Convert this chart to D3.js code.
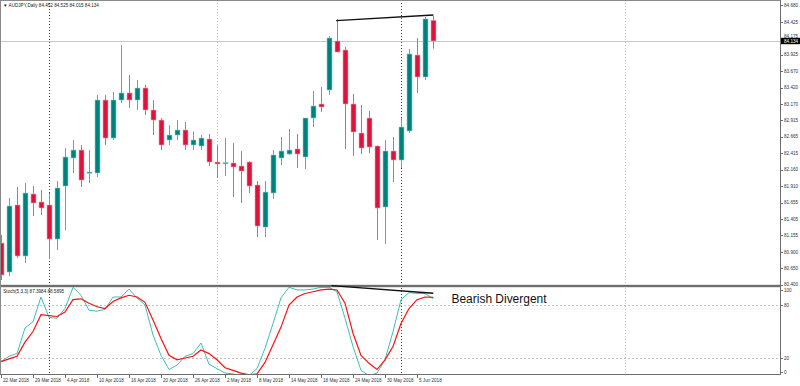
<!DOCTYPE html>
<html>
<head>
<meta charset="utf-8">
<script src="https://cdn.jsdelivr.net/npm/d3@7"></script>
<style>
  body { margin: 0; background: #fff; }
  svg { display: block; font-family: "Liberation Sans", Arial, sans-serif; }
</style>
</head>
<body>
<div id="chart"></div>
<script>
// AUDJPY daily bars, 22 Mar .. 7 Jun 2018
var opens  = [81.036,80.591,81.619,80.837,81.788,81.665,81.619,81.097,81.910,82.340,82.462,82.110,82.110,83.229,82.646,83.229,83.337,83.229,83.413,83.076,82.922,82.616,82.692,82.769,82.539,82.524,82.631,82.278,82.263,82.263,82.217,82.278,81.926,81.281,81.803,82.340,82.401,82.478,82.355,82.953,83.168,83.383,84.134,83.996,83.168,82.723,82.953,82.524,81.588,82.447,82.309,82.754,83.919,83.582,84.452];
var highs  = [81.159,81.726,81.895,81.956,81.910,81.849,81.803,81.987,82.493,82.616,82.539,82.462,83.306,83.306,83.352,84.073,83.613,83.536,83.459,83.229,82.953,82.845,82.922,82.892,82.747,82.692,82.708,82.539,82.646,82.570,82.447,82.294,81.987,81.987,82.462,82.662,82.785,82.708,82.953,83.367,83.429,84.211,84.472,84.042,83.321,83.153,83.061,82.530,82.616,82.662,82.953,84.011,84.180,84.502,84.525];
var lows   = [80.469,80.530,80.806,80.729,81.450,81.466,80.791,80.929,81.235,82.110,81.895,81.956,82.048,82.539,82.616,83.183,83.107,83.076,82.999,82.692,82.462,82.539,82.616,82.462,82.462,82.462,82.217,82.033,82.064,81.742,81.650,81.803,81.128,81.128,81.711,82.232,82.386,82.186,82.171,82.815,83.045,83.306,83.965,82.478,82.370,82.401,82.416,81.082,81.021,81.972,82.186,82.723,83.337,83.536,84.015];
var closes = [80.545,81.604,80.837,81.803,81.650,81.573,81.097,81.880,82.355,82.462,82.002,82.125,83.229,82.646,83.229,83.337,83.229,83.413,83.076,82.922,82.539,82.692,82.769,82.539,82.616,82.646,82.278,82.248,82.268,82.202,82.140,81.910,81.297,81.818,82.386,82.447,82.462,82.401,82.953,83.137,83.122,84.180,83.965,83.168,82.739,82.493,82.508,81.573,82.447,82.309,82.815,83.935,83.582,84.472,84.134];

// Stochastic(5,3,3)
var stochK = [16,22,25,54,61,89,66,65,76,100,91,74,73,75,89,89,98,88,80,46,23,7,12,22,25,37,13,8,3,2,0,0,8,31,59,88,100,97,97,98,100,100,95,65,33,6,0,3,18,50,86,94,93,93,87.4];
var stochD = [16,19,22,38,50,69,68,67,72,86,87,82,78,76,84,88,91,89,83,63,42,23,18,20,22,29,25,18,9,6,3,1,2,15,35,55,80,89,93,95,97,98,97,82,48,23,14,7,18,33,59,76,86,89,88.6];

var dateLabels = ["22 Mar 2018","29 Mar 2018","4 Apr 2018","10 Apr 2018","16 Apr 2018","20 Apr 2018","26 Apr 2018","2 May 2018","8 May 2018","14 May 2018","18 May 2018","24 May 2018","30 May 2018","5 Jun 2018"];
var priceTicks = [84.680,84.425,84.175,83.925,83.670,83.420,83.170,82.915,82.665,82.415,82.160,81.910,81.655,81.405,81.155,80.900,80.650,80.400];
var stochTicks = [100,80,20,0];
var stochLevels = [80,20];
var monthSeparators = [6,50];
var gridSeparators = [27,78];
var priceTrend = [[41.9,84.446],[54.04,84.533]];
var stochTrend = [[41.3,101.9],[54.04,93.3]];

var width = 800, height = 386;
var plotRight = 780;

var svg = d3.select("#chart").append("svg")
  .attr("width", width)
  .attr("height", height);

var x = d3.scaleLinear().domain([0, 1]).range([1, 9]);
var yP = d3.scaleLinear().domain([80.40, 84.68]).range([284.5, 5.4]);
var yS = d3.scaleLinear().domain([0, 100]).range([375.7, 287.3]);

var candles = closes.map(function(c, i) {
  return { i: i, o: opens[i], h: highs[i], l: lows[i], c: c };
});

// clip areas
var defs = svg.append("defs");
defs.append("clipPath").attr("id", "clipMain")
  .append("rect").attr("x", 0).attr("y", 0).attr("width", plotRight).attr("height", 285);
defs.append("clipPath").attr("id", "clipStoch")
  .append("rect").attr("x", 0).attr("y", 282).attr("width", plotRight).attr("height", 92);

// separators
svg.append("g").selectAll("line")
  .data(gridSeparators).enter().append("line")
  .attr("x1", d => Math.round(x(d)) + 0.5).attr("x2", d => Math.round(x(d)) + 0.5)
  .attr("y1", 0).attr("y2", 374)
  .attr("stroke", "#c4c4c4").attr("stroke-dasharray", "1,2");

svg.append("g").selectAll("line")
  .data(monthSeparators).enter().append("line")
  .attr("x1", d => Math.round(x(d)) + 0.5).attr("x2", d => Math.round(x(d)) + 0.5)
  .attr("y1", 0).attr("y2", 374)
  .attr("stroke", "#444").attr("stroke-dasharray", "1,2");

// current price line
svg.append("line")
  .attr("x1", 0).attr("x2", plotRight)
  .attr("y1", Math.round(yP(closes[closes.length - 1])) + 0.5)
  .attr("y2", Math.round(yP(closes[closes.length - 1])) + 0.5)
  .attr("stroke", "#c8c8c8");

// stoch levels
svg.append("g").selectAll("line")
  .data(stochLevels).enter().append("line")
  .attr("x1", 0).attr("x2", plotRight)
  .attr("y1", d => Math.round(yS(d)) + 0.5).attr("y2", d => Math.round(yS(d)) + 0.5)
  .attr("stroke", "#c4c4c4").attr("stroke-dasharray", "2,2");

// candles
var cg = svg.append("g").attr("clip-path", "url(#clipMain)");

cg.selectAll("line.wick")
  .data(candles).enter().append("line")
  .attr("class", "wick")
  .attr("x1", d => Math.round(x(d.i)) + 0.5)
  .attr("x2", d => Math.round(x(d.i)) + 0.5)
  .attr("y1", d => yP(d.h))
  .attr("y2", d => yP(d.l))
  .attr("stroke", d => d.c >= d.o ? "#4fb0aa" : "#ea5c77")
  .attr("stroke-width", 1);

cg.selectAll("rect.body")
  .data(candles).enter().append("rect")
  .attr("class", "body")
  .attr("x", d => Math.round(x(d.i)) - 2)
  .attr("y", d => yP(Math.max(d.o, d.c)))
  .attr("width", 5)
  .attr("height", d => Math.max(1.2, Math.abs(yP(d.o) - yP(d.c))))
  .attr("fill", d => d.c >= d.o ? "#00827c" : "#dc143c")
  .attr("stroke", d => d.c >= d.o ? "#8fd0cb" : "#f4a0b0")
  .attr("stroke-width", 0.6);

// stochastic lines
var sg = svg.append("g").attr("clip-path", "url(#clipStoch)");
var line = d3.line()
  .x((d, i) => x(i))
  .y(d => yS(d));

sg.append("path").datum(stochK)
  .attr("d", line)
  .attr("fill", "none")
  .attr("stroke", "#3cc0b4")
  .attr("stroke-width", 1);

sg.append("path").datum(stochD)
  .attr("d", line)
  .attr("fill", "none")
  .attr("stroke", "#ff1010")
  .attr("stroke-width", 1.2);

// frame
svg.append("rect").attr("x", 0).attr("y", 284.8).attr("width", plotRight).attr("height", 2.4).attr("fill", "#6e6e6e");
svg.append("line").attr("x1", 0.5).attr("x2", 0.5).attr("y1", 0).attr("y2", 374).attr("stroke", "#8a8a8a");
svg.append("line").attr("x1", 0).attr("x2", plotRight).attr("y1", 0.5).attr("y2", 0.5).attr("stroke", "#8a8a8a");
svg.append("line").attr("x1", 0).attr("x2", plotRight + 1).attr("y1", 374.5).attr("y2", 374.5).attr("stroke", "#6e6e6e");
svg.append("line").attr("x1", plotRight + 0.5).attr("x2", plotRight + 0.5).attr("y1", 0).attr("y2", 375).attr("stroke", "#6e6e6e");

// trend lines
svg.append("path").datum(priceTrend)
  .attr("d", d3.line().x(d => x(d[0])).y(d => yP(d[1])))
  .attr("stroke", "#111").attr("stroke-width", 1.4).attr("fill", "none");
svg.append("path").datum(stochTrend)
  .attr("d", d3.line().x(d => x(d[0])).y(d => yS(d[1])))
  .attr("stroke", "#111").attr("stroke-width", 1.4).attr("fill", "none");

// price axis
var pa = svg.append("g").attr("font-size", 4.6).attr("fill", "#333");
var last = closes[closes.length - 1];
priceTicks.forEach(function(p) {
  var yy = Math.max(4, yP(p));
  pa.append("line").attr("x1", plotRight).attr("x2", plotRight + 3)
    .attr("y1", Math.round(yy) + 0.5).attr("y2", Math.round(yy) + 0.5).attr("stroke", "#6e6e6e");
  // label hidden under the current price box is nudged up, as in the terminal
  var ty = Math.abs(yy - yP(last)) < 6 ? yP(last) - 3.4 : yy + 1.7;
  pa.append("text").attr("x", plotRight + 4).attr("y", ty).text(p.toFixed(3));
});
pa.append("rect").attr("x", plotRight + 1).attr("y", yP(last) - 3.2).attr("width", 19).attr("height", 6.4).attr("fill", "#000");
pa.append("text").attr("x", plotRight + 4).attr("y", yP(last) + 1.7).attr("fill", "#fff").text(last.toFixed(3));

// stoch axis
stochTicks.forEach(function(v) {
  var yy = Math.min(372, Math.max(290, yS(v)));
  pa.append("line").attr("x1", plotRight).attr("x2", plotRight + 3)
    .attr("y1", Math.round(yy) + 0.5).attr("y2", Math.round(yy) + 0.5).attr("stroke", "#6e6e6e");
  pa.append("text").attr("x", plotRight + 4).attr("y", yy + 1.7).text(v);
});

// date axis
var da = svg.append("g").attr("font-size", 4.6).attr("fill", "#333");
dateLabels.forEach(function(lbl, k) {
  var xx = Math.round(x(k * 4)) + 0.5;
  da.append("line").attr("x1", xx).attr("x2", xx).attr("y1", 375).attr("y2", 378).attr("stroke", "#6e6e6e");
  da.append("text").attr("x", xx + 1.5).attr("y", 381.5).text(lbl);
});

// headers
svg.append("text").attr("x", 3).attr("y", 6.8).attr("font-size", 4.6).attr("fill", "#222")
  .text("\u25BC AUDJPY,Daily  84.452 84.525 84.015 84.134");
svg.append("text").attr("x", 3.3).attr("y", 293.3).attr("font-size", 4.6).attr("fill", "#222")
  .text("Stoch(5,3,3) 87.3984 88.5895");

svg.append("text").attr("x", 451.5).attr("y", 302.6)
  .attr("font-size", 12.5).attr("fill", "#111")
  .attr("textLength", 95).attr("lengthAdjust", "spacingAndGlyphs")
  .text("Bearish Divergent");
</script>
</body>
</html>
